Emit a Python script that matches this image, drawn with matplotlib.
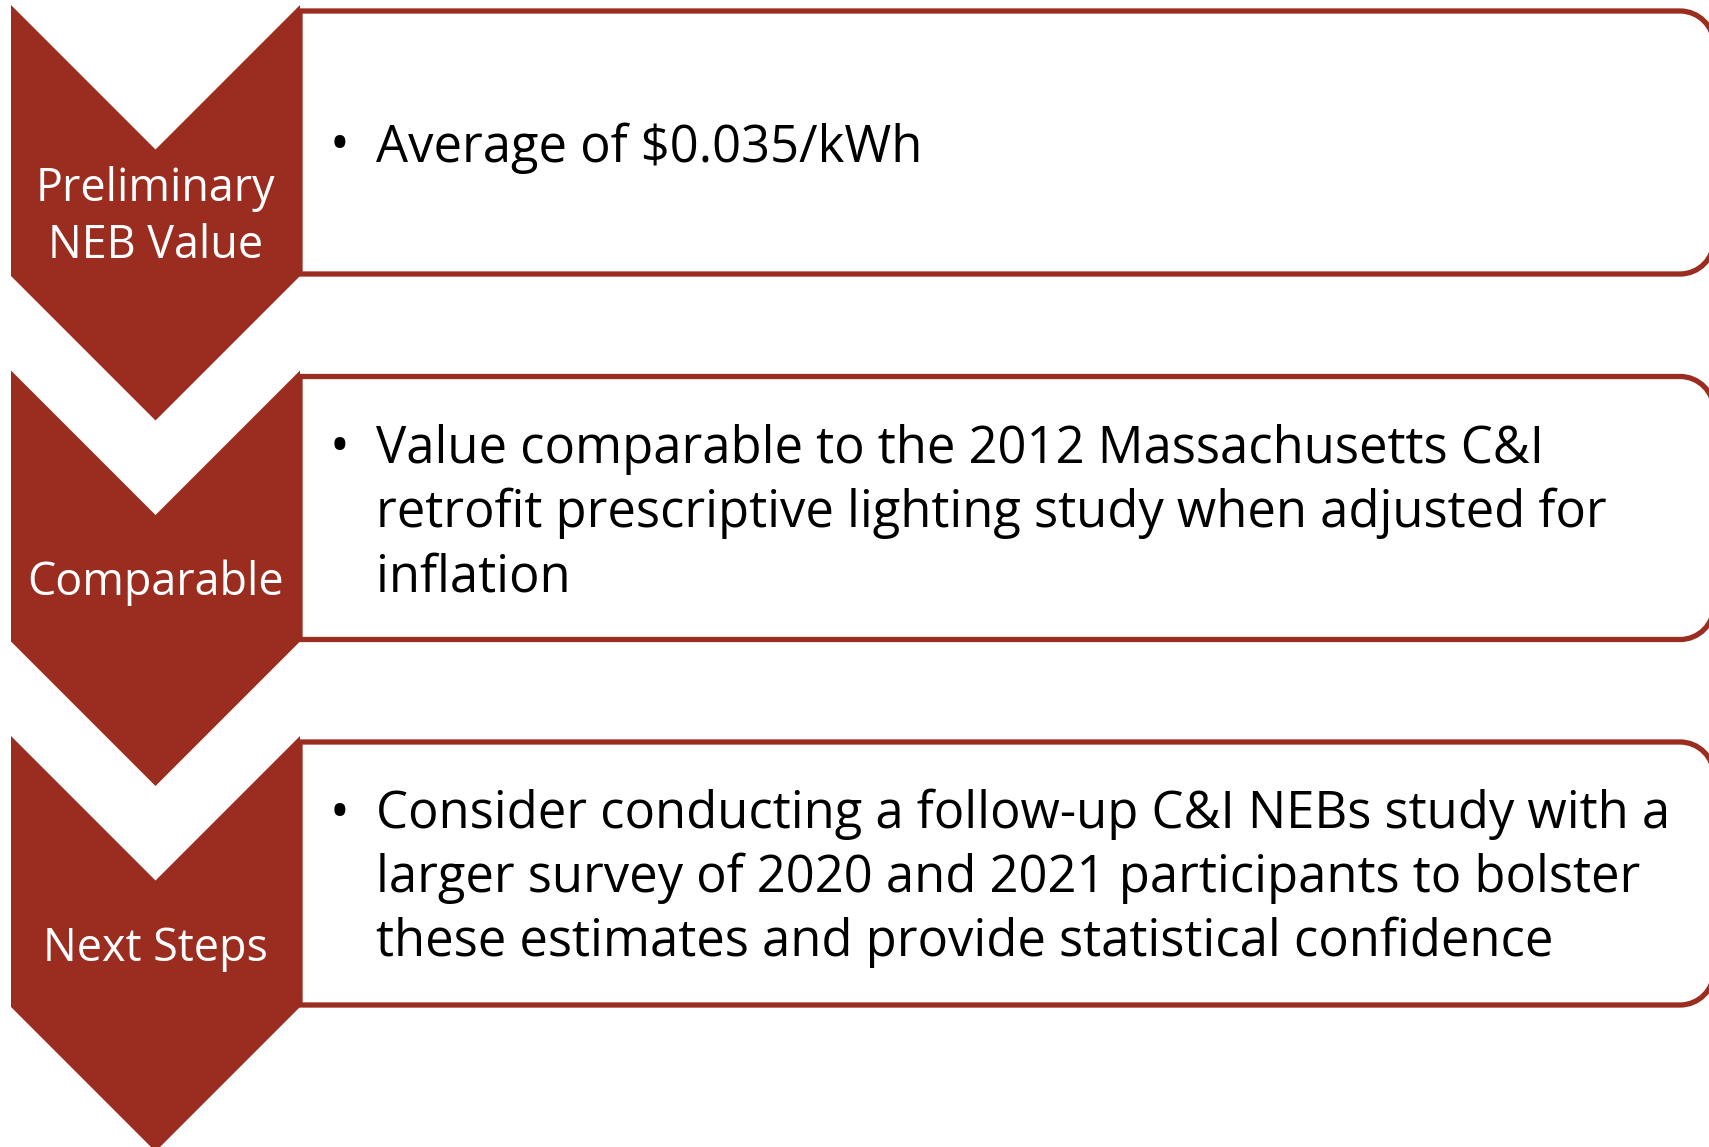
import matplotlib
matplotlib.use("Agg")
import matplotlib.pyplot as plt
from matplotlib.path import Path
from matplotlib.patches import PathPatch, Polygon

# ---- content ----
labels = ["Preliminary\nNEB Value", "Comparable", "Next Steps"]
bullets = [
    ["Average of $0.035/kWh"],
    ["Value comparable to the 2012 Massachusetts C&I",
     "retrofit prescriptive lighting study when adjusted for",
     "inflation"],
    ["Consider conducting a follow-up C&I NEBs study with a",
     "larger survey of 2020 and 2021 participants to bolster",
     "these estimates and provide statistical confidence"],
]

# ---- style ----
RED = "#9B2D20"
FONT = ["Open Sans", "DejaVu Sans"]
W, H = 1709, 1147

fig = plt.figure(figsize=(W / 100, H / 100), dpi=100)
ax = fig.add_axes([0, 0, 1, 1])
ax.set_xlim(0, W)
ax.set_ylim(H, 0)
ax.axis("off")

step = 365.5
cx0, cx1 = 11, 300
depth = (cx1 - cx0) / 2
rect_h = 271
box_left, box_right = 300, 1714
box_h = 263
rad = 34

for i, (lab, lines) in enumerate(zip(labels, bullets)):
    top = 5 + i * step
    # rounded box (right corners rounded)
    bt = top + 6
    bb = bt + box_h
    k = 0.5523 * rad
    verts = [
        (box_left, bt), (box_right - rad, bt),
        (box_right - rad + k, bt), (box_right, bt + rad - k), (box_right, bt + rad),
        (box_right, bb - rad),
        (box_right, bb - rad + k), (box_right - rad + k, bb), (box_right - rad, bb),
        (box_left, bb), (box_left, bt),
    ]
    codes = [Path.MOVETO, Path.LINETO,
             Path.CURVE4, Path.CURVE4, Path.CURVE4,
             Path.LINETO,
             Path.CURVE4, Path.CURVE4, Path.CURVE4,
             Path.LINETO, Path.CLOSEPOLY]
    ax.add_patch(PathPatch(Path(verts, codes), facecolor="white",
                           edgecolor=RED, lw=3.8, zorder=1))
    # chevron
    mid = (cx0 + cx1) / 2
    chev = [(cx0, top), (mid, top + depth), (cx1, top), (cx1, top + rect_h),
            (mid, top + rect_h + depth), (cx0, top + rect_h)]
    ax.add_patch(Polygon(chev, closed=True, facecolor=RED, edgecolor="none", zorder=2))
    # chevron label
    ly = (top + depth + top + rect_h) / 2 + 5
    ax.text(mid, ly, lab, color="white", ha="center", va="center",
            fontsize=32.3, family=FONT, linespacing=1.3, zorder=3)
    # bullets
    bc = (bt + bb) / 2
    n = len(lines)
    for j, line in enumerate(lines):
        y = bc + (j - (n - 1) / 2) * 64 + 19
        if j == 0:
            ax.text(340, y, "\u2022", color="black", ha="center", va="baseline",
                    fontsize=38, family=FONT, zorder=3)
        ax.text(376, y, line, color="black", ha="left", va="baseline",
                fontsize=36.5, family=FONT, zorder=3)

fig.savefig("out.png", dpi=100)
